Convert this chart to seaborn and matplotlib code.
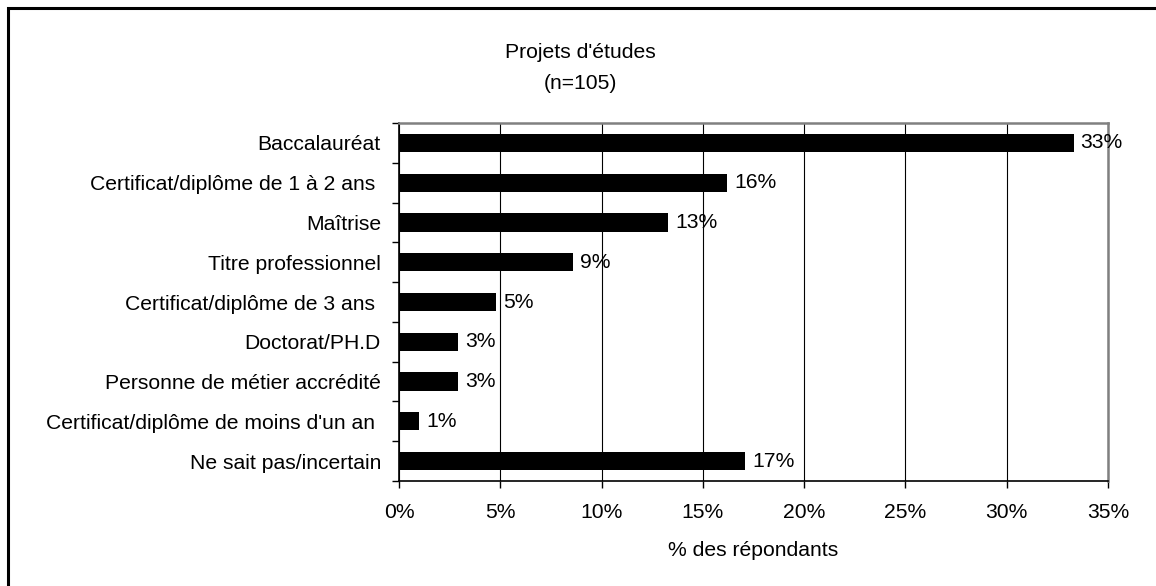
import matplotlib
matplotlib.use("Agg")
import matplotlib.pyplot as plt
import matplotlib.ticker as mticker
from matplotlib.patches import Rectangle
import seaborn as sns
import pandas as pd

categories = [
    "Baccalauréat",
    "Certificat/diplôme de 1 à 2 ans ",
    "Maîtrise",
    "Titre professionnel",
    "Certificat/diplôme de 3 ans ",
    "Doctorat/PH.D",
    "Personne de métier accrédité",
    "Certificat/diplôme de moins d'un an ",
    "Ne sait pas/incertain",
]
values = [33.3, 16.2, 13.3, 8.6, 4.8, 2.9, 2.9, 1.0, 17.1]
title = "Projets d'études\n(n=105)"
xlabel = "% des répondants"

FS = 15.2

sns.set_theme(style="white")
plt.rcParams["font.family"] = ["Liberation Sans", "DejaVu Sans"]

df = pd.DataFrame({"cat": categories, "val": values})

fig = plt.figure(figsize=(11.56, 5.86), dpi=100)
ax = fig.add_axes([399 / 1156, 1 - 481 / 586, (1108 - 399) / 1156, (481 - 123) / 586])

sns.barplot(data=df, x="val", y="cat", orient="h", color="black",
            width=0.46, ax=ax, linewidth=0, saturation=1)

ax.set_xlim(0, 35)
ax.set_ylim(8.5, -0.5)
ax.xaxis.set_major_locator(mticker.MultipleLocator(5))
ax.xaxis.set_major_formatter(mticker.FuncFormatter(lambda v, p: f"{v:.0f}%"))
ax.grid(axis="x", color="black", linewidth=0.8)
ax.set_axisbelow(True)

# y ticks at category boundaries
ax.set_yticks(range(len(categories)))
ax.set_yticklabels(categories)
ax.set_yticks([i - 0.5 for i in range(len(categories) + 1)], minor=True)
ax.tick_params(axis="y", which="major", length=0, pad=13, labelsize=FS, colors="black")
ax.tick_params(axis="y", which="minor", left=True, length=5, width=1, color="black")
ax.tick_params(axis="x", which="major", bottom=True, length=5, width=1, color="black",
               labelsize=FS, pad=11, labelcolor="black")

for side in ["left", "bottom"]:
    ax.spines[side].set_color("black")
    ax.spines[side].set_linewidth(1.2)
for side in ["top", "right"]:
    ax.spines[side].set_visible(True)
    ax.spines[side].set_color("#808080")
    ax.spines[side].set_linewidth(1.8)

ax.set_ylabel("")
ax.set_xlabel(xlabel, fontsize=FS, labelpad=13.5, color="black")

for cont in ax.containers:
    ax.bar_label(cont, labels=[f"{round(v)}%" for v in values], padding=5,
                 fontsize=FS, color="black")

fig.text(580 / 1156, 1 - 68 / 586, title, ha="center", va="center",
         fontsize=FS, linespacing=1.75, color="black")

fig.patches.append(Rectangle((8 / 1156, -0.2), 1.2, 1.2 - 8 / 586 + 0.0,
                             transform=fig.transFigure, fill=False,
                             edgecolor="black", linewidth=2.2, figure=fig))

fig.savefig("out.png", dpi=100, facecolor="white")
